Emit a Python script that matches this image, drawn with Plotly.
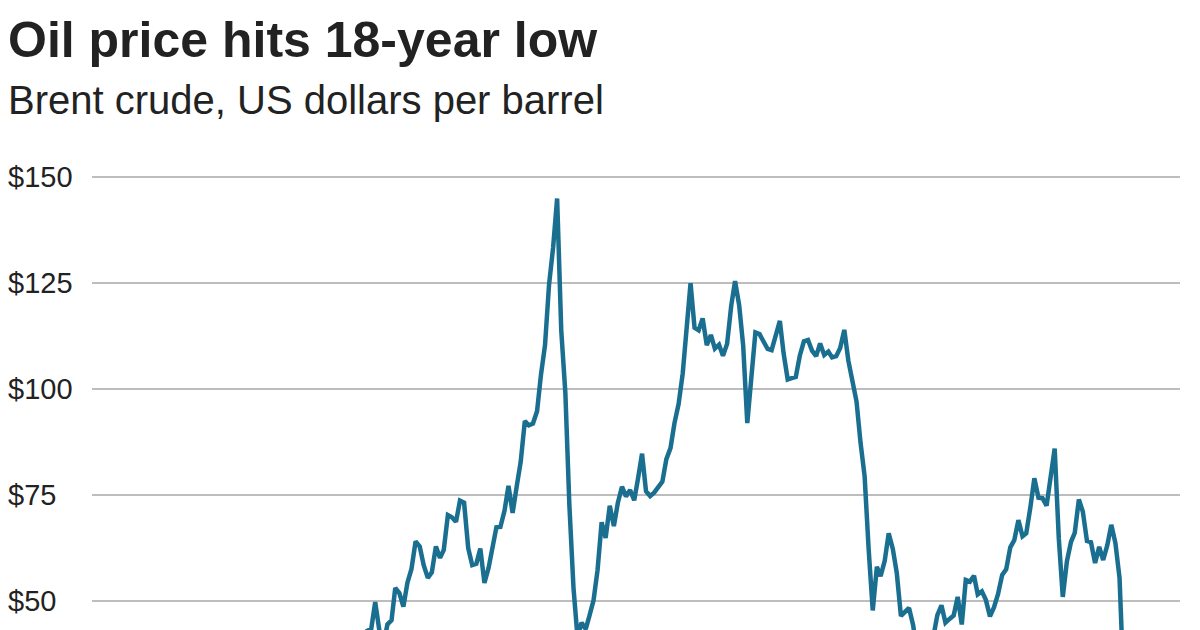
import pandas as pd
import plotly.graph_objects as go

# Monthly Brent crude averages, US$ per barrel (read from chart / approx)
brent = [
    15.4, 14.1, 13.3, 13.5, 14.4, 12.1, 12.0, 12.0, 13.4, 12.9, 11.0, 9.8,
    11.1, 10.3, 12.5, 15.3, 15.3, 15.9, 19.1, 20.3, 22.5, 22.1, 24.6, 25.5,
    25.5, 27.8, 27.5, 22.8, 27.6, 29.8, 28.6, 30.5, 33.1, 30.9, 32.6, 25.3,
    25.6, 27.5, 24.5, 25.6, 28.4, 27.7, 24.5, 25.8, 25.7, 20.5, 18.9, 18.5,
    19.4, 20.3, 23.7, 25.7, 25.4, 24.1, 25.7, 26.6, 28.3, 27.5, 24.2, 27.0,
    30.9, 32.7, 30.4, 25.0, 25.8, 27.6, 28.4, 29.8, 27.1, 29.6, 28.8, 29.8,
    31.2, 30.9, 33.8, 33.4, 37.6, 35.5, 38.4, 43.0, 43.4, 49.8, 43.1, 39.6,
    44.5, 45.5, 53.1, 51.9, 48.7, 54.4, 57.6, 64.1, 62.9, 58.5, 55.5, 56.8,
    62.9, 60.2, 62.1, 70.3, 69.8, 68.7, 73.7, 73.2, 62.5, 58.5, 58.8, 62.4,
    54.3, 57.8, 62.1, 67.4, 67.5, 71.3, 77.2, 70.8, 77.1, 82.9, 92.5, 91.5,
    91.9, 94.8, 103.3, 110.4, 124.6, 133.5, 145.0, 113.9, 99.1, 72.8, 53.2, 41.6,
    44.9, 43.4, 46.5, 50.2, 57.3, 68.6, 64.9, 72.5, 67.7, 73.2, 77.0, 74.7,
    76.2, 73.8, 78.8, 84.8, 75.9, 74.8, 75.6, 77.1, 78.2, 83.5, 86.1, 92.0,
    96.5, 103.7, 114.6, 125.0, 114.5, 113.9, 116.7, 110.4, 112.8, 109.6, 110.5, 107.9,
    110.7, 119.7, 125.5, 119.8, 110.3, 92.0, 102.6, 113.4, 113.0, 111.5, 109.5, 109.2,
    112.3, 116.1, 108.5, 102.3, 102.6, 102.9, 107.9, 111.3, 111.6, 109.1, 107.8, 110.8,
    108.1, 108.9, 107.5, 107.8, 109.7, 114.0, 106.8, 101.6, 97.1, 87.4, 79.4, 62.3,
    47.8, 58.1, 55.9, 59.5, 66.0, 62.3, 56.6, 46.5, 47.6, 48.4, 44.3, 38.0,
    30.7, 32.2, 38.2, 41.6, 46.7, 49.0, 44.9, 45.8, 46.6, 51.0, 44.5, 55.0,
    54.6, 56.0, 51.6, 52.3, 50.3, 46.4, 48.5, 51.7, 56.2, 57.5, 62.7, 64.4,
    69.1, 65.3, 66.0, 72.1, 79.0, 74.4, 74.3, 72.5, 78.9, 86.0, 64.8, 51.0,
    59.4, 64.0, 66.1, 74.0, 71.1, 64.2, 63.9, 59.0, 62.8, 59.7, 63.2, 68.0,
    63.7, 55.5, 32.0, 25.0,
]
dates = pd.date_range("1998-01-01", periods=len(brent), freq="MS")

tick_vals = [50, 75, 100, 125, 150]
tick_text = ["$50", "$75", "$100", "$125", "$150"]

fig = go.Figure(go.Scatter(x=dates, y=brent, mode="lines",
                           line=dict(color="#1a6f90", width=4.5)))

anns = [
    dict(text="<b>Oil price hits 18-year low</b>", x=0, y=1, xref="paper",
         yref="paper", xanchor="left", yanchor="top", showarrow=False,
         font=dict(size=50, color="#222"), xshift=-86, yshift=144),
    dict(text="Brent crude, US dollars per barrel", x=0, y=1, xref="paper",
         yref="paper", xanchor="left", yanchor="top", showarrow=False,
         font=dict(size=40, color="#222"), xshift=-86, yshift=78),
]
for v, t in zip(tick_vals, tick_text):
    anns.append(dict(text=t, x=0, y=v, xref="paper", yref="y", xanchor="left",
                     yanchor="middle", showarrow=False, xshift=-86,
                     font=dict(size=29, color="#222")))

fig.update_layout(
    width=1200, height=630,
    margin=dict(l=84, r=28, t=146, b=0),
    plot_bgcolor="white", paper_bgcolor="white",
    font=dict(family="Liberation Sans, Arial, sans-serif", color="#222"),
    showlegend=False,
    xaxis=dict(range=["1998-12-01", "2021-05-01"], visible=False),
    yaxis=dict(range=[41.3, 155.5], tickvals=tick_vals, showticklabels=False,
               ticks="", showgrid=True, gridcolor="#bdbdbd", gridwidth=1.5,
               zeroline=False),
    annotations=anns,
)

fig.write_html("out.html")
